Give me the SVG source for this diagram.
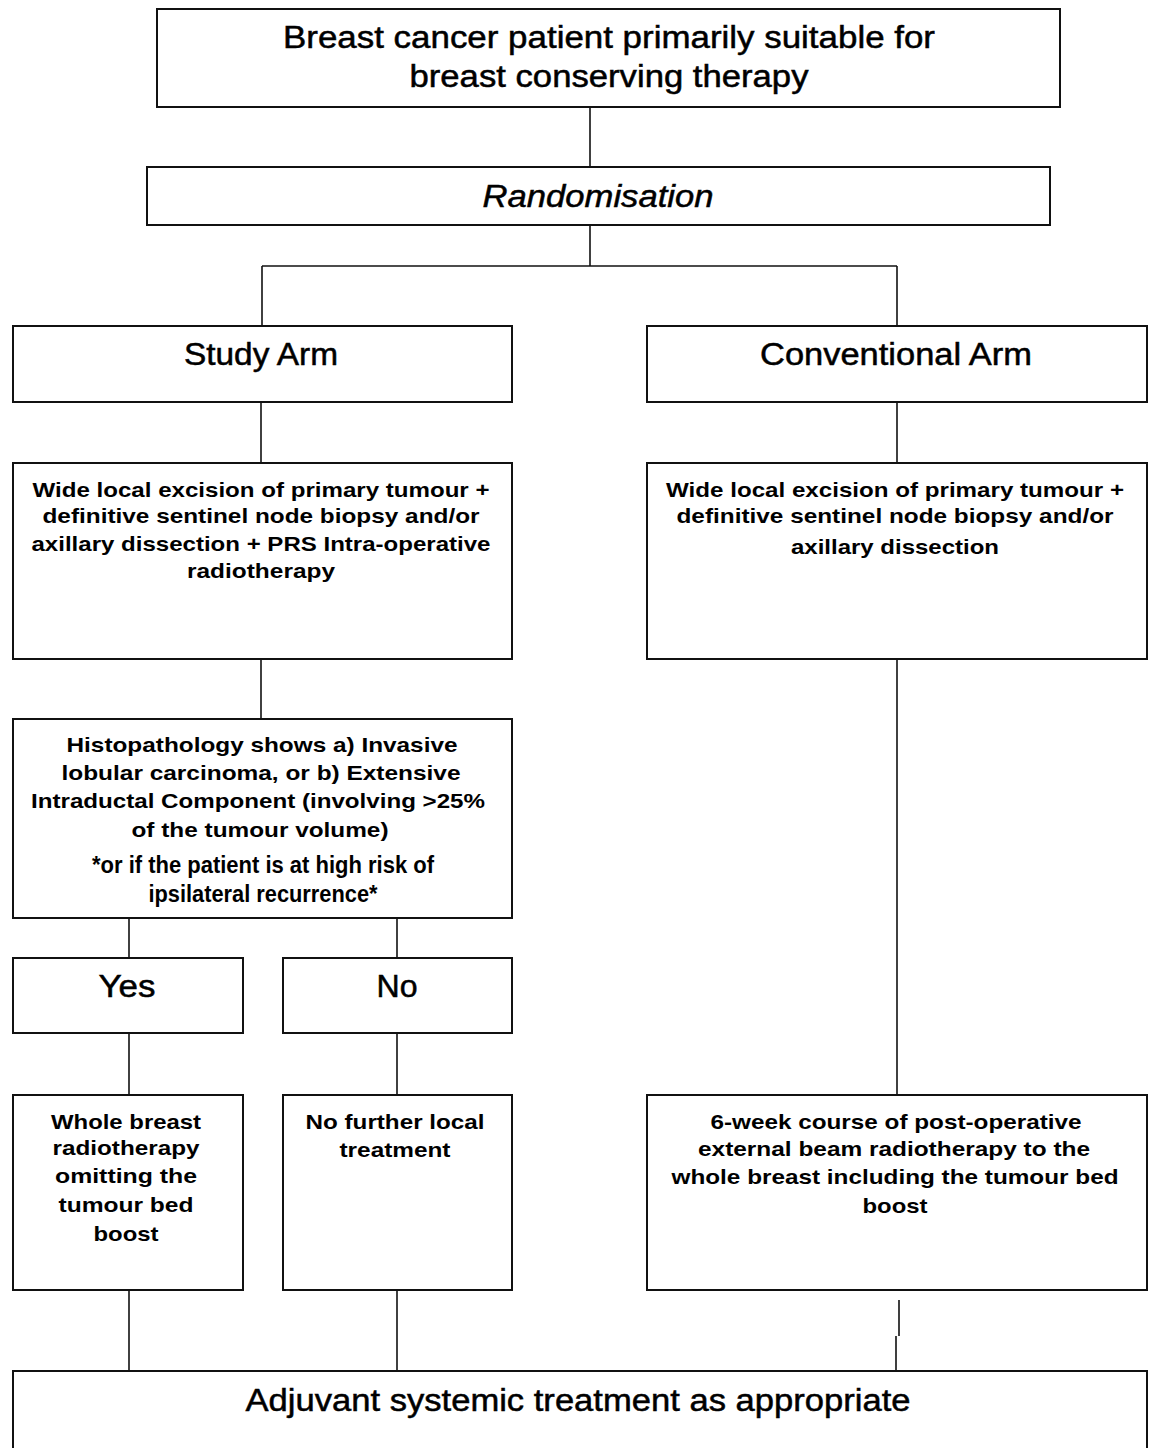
<svg xmlns="http://www.w3.org/2000/svg" width="1152" height="1448" viewBox="0 0 1152 1448">
<style>
.box{fill:#fff;stroke:#111;stroke-width:2}
.ln{stroke:#111;stroke-width:1.6;fill:none}
.h{font-family:"Liberation Sans",Arial,sans-serif;font-size:31px;fill:#000;stroke:#000;stroke-width:0.5;text-anchor:middle}
.it{font-style:italic}
.b{font-family:"Liberation Sans",Arial,sans-serif;font-size:21px;font-weight:bold;fill:#000;text-anchor:middle}
.n{font-family:"Liberation Sans",Arial,sans-serif;font-size:23px;font-weight:bold;fill:#000;text-anchor:middle}
</style>
<rect width="1152" height="1448" fill="#fff"/>
<g id="connectors">
<line class="ln" x1="590" y1="107" x2="590" y2="167"/>
<line class="ln" x1="590" y1="225" x2="590" y2="266"/>
<line class="ln" x1="262" y1="266" x2="897" y2="266"/>
<line class="ln" x1="262" y1="266" x2="262" y2="326"/>
<line class="ln" x1="897" y1="266" x2="897" y2="326"/>
<line class="ln" x1="261" y1="402" x2="261" y2="463"/>
<line class="ln" x1="897" y1="402" x2="897" y2="463"/>
<line class="ln" x1="261" y1="659" x2="261" y2="719"/>
<line class="ln" x1="897" y1="659" x2="897" y2="1102"/>
<line class="ln" x1="129" y1="897" x2="129" y2="958"/>
<line class="ln" x1="397" y1="897" x2="397" y2="958"/>
<line class="ln" x1="129" y1="1033" x2="129" y2="1095"/>
<line class="ln" x1="397" y1="1033" x2="397" y2="1095"/>
<line class="ln" x1="129" y1="1290" x2="129" y2="1371"/>
<line class="ln" x1="397" y1="1290" x2="397" y2="1371"/>
<path class="ln" d="M899,1300 V1336 M896,1336 V1371"/>
</g>
<g id="top"><rect class="box" x="157" y="9" width="903" height="98"/>
<text class="h" x="609" y="48" textLength="652" lengthAdjust="spacingAndGlyphs">Breast cancer patient primarily suitable for</text>
<text class="h" x="609" y="87" textLength="399" lengthAdjust="spacingAndGlyphs">breast conserving therapy</text></g>
<g id="randomisation"><rect class="box" x="147" y="167" width="903" height="58"/>
<text class="h it" x="598" y="207" textLength="231" lengthAdjust="spacingAndGlyphs">Randomisation</text></g>
<g id="study-arm"><rect class="box" x="13" y="326" width="499" height="76"/>
<text class="h" x="261" y="365" textLength="154" lengthAdjust="spacingAndGlyphs">Study Arm</text></g>
<g id="conventional-arm"><rect class="box" x="647" y="326" width="500" height="76"/>
<text class="h" x="896" y="365" textLength="272" lengthAdjust="spacingAndGlyphs">Conventional Arm</text></g>
<g id="study-surgery"><rect class="box" x="13" y="463" width="499" height="196"/>
<text class="b" x="261" y="497" textLength="457" lengthAdjust="spacingAndGlyphs">Wide local excision of primary tumour +</text>
<text class="b" x="261" y="523" textLength="437" lengthAdjust="spacingAndGlyphs">definitive sentinel node biopsy and/or</text>
<text class="b" x="261" y="551" textLength="459" lengthAdjust="spacingAndGlyphs">axillary dissection + PRS Intra-operative</text>
<text class="b" x="261" y="578" textLength="148" lengthAdjust="spacingAndGlyphs">radiotherapy</text></g>
<g id="conventional-surgery"><rect class="box" x="647" y="463" width="500" height="196"/>
<text class="b" x="895" y="497" textLength="458" lengthAdjust="spacingAndGlyphs">Wide local excision of primary tumour +</text>
<text class="b" x="895" y="523" textLength="437" lengthAdjust="spacingAndGlyphs">definitive sentinel node biopsy and/or</text>
<text class="b" x="895" y="554" textLength="208" lengthAdjust="spacingAndGlyphs">axillary dissection</text></g>
<g id="histopathology"><rect class="box" x="13" y="719" width="499" height="199"/>
<text class="b" x="262" y="752" textLength="391" lengthAdjust="spacingAndGlyphs">Histopathology shows a) Invasive</text>
<text class="b" x="261" y="780" textLength="399" lengthAdjust="spacingAndGlyphs">lobular carcinoma, or b) Extensive</text>
<text class="b" x="258" y="808" textLength="454" lengthAdjust="spacingAndGlyphs">Intraductal Component (involving &gt;25%</text>
<text class="b" x="260" y="837" textLength="257" lengthAdjust="spacingAndGlyphs">of the tumour volume)</text>
<text class="n" x="263" y="873" textLength="342" lengthAdjust="spacingAndGlyphs">*or if the patient is at high risk of</text>
<text class="n" x="263" y="902" textLength="229" lengthAdjust="spacingAndGlyphs">ipsilateral recurrence*</text></g>
<g id="yes"><rect class="box" x="13" y="958" width="230" height="75"/>
<text class="h" x="127" y="997" textLength="57" lengthAdjust="spacingAndGlyphs">Yes</text></g>
<g id="no"><rect class="box" x="283" y="958" width="229" height="75"/>
<text class="h" x="397" y="997" textLength="41" lengthAdjust="spacingAndGlyphs">No</text></g>
<g id="whole-breast"><rect class="box" x="13" y="1095" width="230" height="195"/>
<text class="b" x="126" y="1129" textLength="150" lengthAdjust="spacingAndGlyphs">Whole breast</text>
<text class="b" x="126" y="1155" textLength="147" lengthAdjust="spacingAndGlyphs">radiotherapy</text>
<text class="b" x="126" y="1183" textLength="142" lengthAdjust="spacingAndGlyphs">omitting the</text>
<text class="b" x="126" y="1212" textLength="135" lengthAdjust="spacingAndGlyphs">tumour bed</text>
<text class="b" x="126" y="1241" textLength="65" lengthAdjust="spacingAndGlyphs">boost</text></g>
<g id="no-further"><rect class="box" x="283" y="1095" width="229" height="195"/>
<text class="b" x="395" y="1129" textLength="179" lengthAdjust="spacingAndGlyphs">No further local</text>
<text class="b" x="395" y="1157" textLength="111" lengthAdjust="spacingAndGlyphs">treatment</text></g>
<g id="six-week"><rect class="box" x="647" y="1095" width="500" height="195"/>
<text class="b" x="896" y="1129" textLength="371" lengthAdjust="spacingAndGlyphs">6-week course of post-operative</text>
<text class="b" x="894" y="1156" textLength="392" lengthAdjust="spacingAndGlyphs">external beam radiotherapy to the</text>
<text class="b" x="895" y="1184" textLength="447" lengthAdjust="spacingAndGlyphs">whole breast including the tumour bed</text>
<text class="b" x="895" y="1213" textLength="65" lengthAdjust="spacingAndGlyphs">boost</text></g>
<g id="adjuvant"><rect class="box" x="13" y="1371" width="1134" height="100"/>
<text class="h" x="578" y="1411" textLength="665" lengthAdjust="spacingAndGlyphs">Adjuvant systemic treatment as appropriate</text></g>
</svg>
